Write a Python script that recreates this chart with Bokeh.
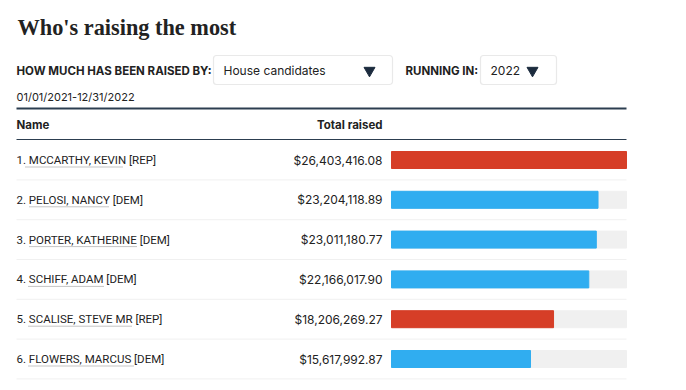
from bokeh.plotting import figure
from bokeh.models import Range1d, BoxAnnotation
from bokeh.core.properties import value
from bokeh.embed import file_html
from bokeh.resources import INLINE

# ---- data ----
ranks = [1, 2, 3, 4, 5, 6]
names = ["MCCARTHY, KEVIN", "PELOSI, NANCY", "PORTER, KATHERINE",
         "SCHIFF, ADAM", "SCALISE, STEVE MR", "FLOWERS, MARCUS"]
parties = ["REP", "DEM", "DEM", "DEM", "REP", "DEM"]
totals = [26403416.08, 23204118.89, 23011180.77, 22166017.90, 18206269.27, 15617992.87]
title_text = "Who's raising the most"
filter_label = "HOW MUCH HAS BEEN RAISED BY:"
filter_value = "House candidates"
running_label = "RUNNING IN:"
running_value = "2022"
date_range = "01/01/2021-12/31/2022"
col_name = "Name"
col_total = "Total raised"

# ---- layout / style ----
W, H = 686, 390
BAR_X0, BAR_W = 391, 235
ROW0, ROW_H = 159.5, 39.8
LEFT, RIGHT = 16, 626
VAL_X = 382
SANS = "Inter"
ROWFONT = "Roboto"
TXT = "#222222"
NAVY = "#2c3e50"
party_colors = {"REP": "#d63e27", "DEM": "#30adf0"}
ul_start = [25, 29, 29, 28, 28, 28]
ul_end = [123, 109, 136, 103, 132, 133]

vmax = max(totals)
n = len(totals)
idx = list(range(n))

p = figure(width=W, height=H, output_backend="svg", toolbar_location=None,
           x_range=Range1d(0, W), y_range=Range1d(H, 0), min_border=0)
p.axis.visible = False
p.grid.visible = False
p.outline_line_color = None
p.background_fill_color = "white"
p.border_fill_color = "white"

p.extra_x_ranges = {"money": Range1d(-BAR_X0 * vmax / BAR_W, (W - BAR_X0) * vmax / BAR_W)}
p.extra_y_ranges = {"rows": Range1d((H - ROW0) / ROW_H, -ROW0 / ROW_H)}

# title
p.text(x=[LEFT + 1], y=[27], text=[title_text], text_font=value("Liberation Serif"),
       text_font_style="bold", text_font_size="22.3px", text_color=TXT, text_baseline="alphabetic")

# filters
p.text(x=[LEFT], y=[70], text=[filter_label], text_font=value(SANS), text_font_style="bold",
       text_font_size="11.5px", text_color=TXT, text_baseline="middle")
p.add_layout(BoxAnnotation(left=213, right=392, top=55, bottom=84,
                           fill_color="white", fill_alpha=1, line_color="#b5b5b5", line_width=1.2,
                           border_radius=3, level="underlay"))
p.text(x=[223], y=[70], text=[filter_value], text_font=value(SANS),
       text_font_size="12px", text_color=TXT, text_baseline="middle")
p.text(x=[405], y=[70], text=[running_label], text_font=value(SANS), text_font_style="bold",
       text_font_size="11.5px", text_color=TXT, text_baseline="middle")
p.add_layout(BoxAnnotation(left=480, right=556, top=55, bottom=84,
                           fill_color="white", fill_alpha=1, line_color="#b5b5b5", line_width=1.2,
                           border_radius=3, level="underlay"))
p.text(x=[490], y=[70], text=[running_value], text_font=value(SANS),
       text_font_size="12px", text_color=TXT, text_baseline="middle")
p.scatter(x=[369, 532], y=[70, 70], marker="inverted_triangle",
          size=11, color="#1c2b3e")

# date
p.text(x=[LEFT], y=[96], text=[date_range], text_font=value(SANS),
       text_font_size="11px", text_color=TXT, text_baseline="middle")

# header lines
p.segment(x0=[LEFT], x1=[RIGHT], y0=[108], y1=[108], line_color=NAVY, line_width=2)
p.text(x=[LEFT], y=[124], text=[col_name], text_font=value(SANS), text_font_style="bold",
       text_font_size="11.5px", text_color=TXT, text_baseline="middle")
p.text(x=[VAL_X], y=[124], text=[col_total], text_font=value(SANS), text_font_style="bold",
       text_font_size="11.5px", text_color=TXT, text_baseline="middle", text_align="right")
p.segment(x0=[LEFT], x1=[RIGHT], y0=[139], y1=[139], line_color=NAVY, line_width=1)

# row separators
p.segment(x0=[LEFT] * n, x1=[RIGHT] * n, y0=[i + 0.5 for i in idx], y1=[i + 0.5 for i in idx],
          line_color="#f0f0f0", line_width=1, y_range_name="rows")

# bars
p.hbar(y=idx, left=0, right=[vmax] * n, height=17 / ROW_H, color="#f0f0f0",
       x_range_name="money", y_range_name="rows")
p.hbar(y=idx, left=0, right=totals, height=17 / ROW_H,
       color=[party_colors[pt] for pt in parties], x_range_name="money", y_range_name="rows")

# row labels
labels = [f"{r}. {nm} [{pt}]" for r, nm, pt in zip(ranks, names, parties)]
p.text(x=[LEFT] * n, y=idx, text=labels, text_font=value(ROWFONT), text_font_size="11.5px",
       text_color=TXT, text_baseline="middle", y_range_name="rows")
p.segment(x0=ul_start, x1=ul_end,
          y0=[i + 7 / ROW_H for i in idx], y1=[i + 7 / ROW_H for i in idx],
          line_color="#8a8a8a", line_width=1, line_dash="1 1", y_range_name="rows")
vals = ["${:,.2f}".format(v) for v in totals]
p.text(x=[VAL_X] * n, y=idx, text=vals, text_font=value(SANS), text_font_size="12px",
       text_color=TXT, text_baseline="middle", text_align="right", y_range_name="rows")

open("out.html", "w").write(file_html(p, INLINE))
